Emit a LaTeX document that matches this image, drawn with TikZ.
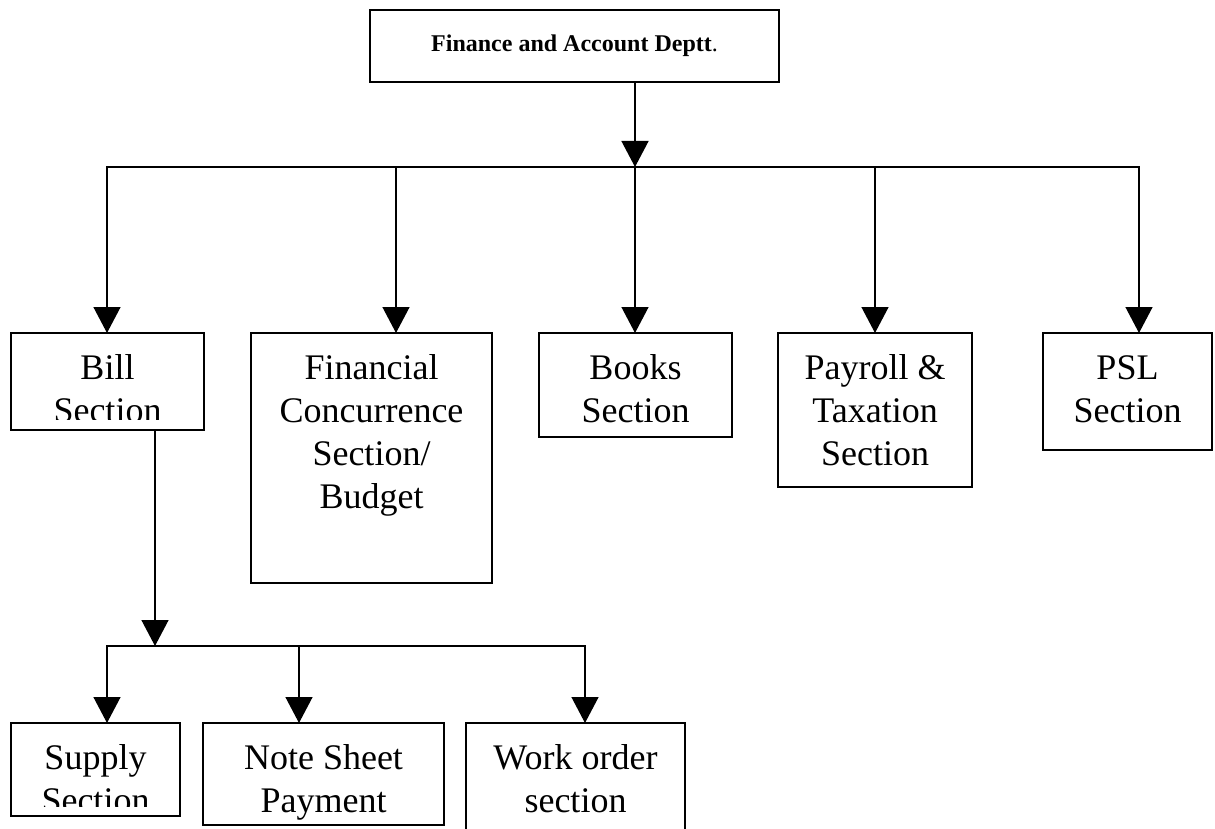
\documentclass[tikz,border=0pt]{standalone}
\usepackage{fontspec}
\setmainfont{Liberation Serif}
\usetikzlibrary{arrows.meta}
% stacked, centred lines whose baseline is that of the first line
\newcommand\boxlines[1]{\begin{tabular}[t]{@{}c@{}}#1\end{tabular}}
\begin{document}
\begin{tikzpicture}[x=1pt,y=-1pt,
  unit/.style={draw, line width=2.2pt, inner sep=0pt, outer sep=0pt, anchor=north west},
  caption/.style={anchor=base, inner sep=0pt, font=\fontsize{36}{43}\selectfont},
  link/.style={line width=1.4pt},
  arrowlink/.style={link, -{Triangle[length=26pt,width=27pt]}}]
\fill[white] (0,0) rectangle (1215,829);
\clip (0,0) rectangle (1215,829);

% department head
\node[unit, minimum width=409pt, minimum height=72pt] (top) at (370,10) {};
\node[anchor=base, inner sep=0pt, font=\fontsize{24}{28}\selectfont] (ttop) at (574.5,52)
  {\textbf{Finance and Account Deptt}.};

% sections
\node[unit, minimum width=193pt, minimum height=97pt]  (bill)  at (11,333) {};
\node[unit, minimum width=241pt, minimum height=250pt] (fin)   at (251,333) {};
\node[unit, minimum width=193pt, minimum height=104pt] (books) at (539,333) {};
\node[unit, minimum width=194pt, minimum height=154pt] (pay)   at (778,333) {};
\node[unit, minimum width=169pt, minimum height=117pt] (psl)   at (1043,333) {};

\begin{scope}
  \clip (11,333) rectangle (204,419);
  \node[caption] (tbill) at (107.5,379) {\boxlines{Bill\\Section}};
\end{scope}
\node[caption] (tfin)   at (371.5,379) {\boxlines{Financial\\Concurrence\\Section/\\Budget}};
\node[caption] (tbooks) at (635.5,379) {\boxlines{Books\\Section}};
\node[caption] (tpay)   at (875,379)   {\boxlines{Payroll \&\\Taxation\\Section}};
\node[caption] (tpsl)   at (1127.5,379) {\boxlines{PSL\\Section}};

% bill sub-sections
\node[unit, minimum width=169pt, minimum height=93pt]  (supply) at (11,723) {};
\node[unit, minimum width=241pt, minimum height=102pt] (note)   at (203,723) {};
\node[unit, minimum width=219pt, minimum height=130pt] (work)   at (466,723) {};

\begin{scope}
  \clip (11,723) rectangle (180,806);
  \node[caption] (tsupply) at (95.5,769) {\boxlines{Supply\\Section}};
\end{scope}
\node[caption] (tnote) at (323.5,769) {\boxlines{Note Sheet\\Payment}};
\node[caption] (twork) at (575.5,769) {\boxlines{Work order\\section}};

% first level connectors
\coordinate (c1) at (107,167);
\coordinate (c2) at (396,167);
\coordinate (c3) at (635,167);
\coordinate (c4) at (875,167);
\coordinate (c5) at (1139,167);
\draw[arrowlink] (top.south -| c3) -- (c3);
\draw[link, line cap=rect] (c1) -- (c5);
\foreach \c/\n in {c1/bill, c2/fin, c3/books, c4/pay, c5/psl}
  \draw[arrowlink] (\c) -- (\c |- \n.north);

% second level connectors
\coordinate (d0) at (155,646);
\coordinate (d1) at (107,646);
\coordinate (d2) at (299,646);
\coordinate (d3) at (585,646);
\draw[arrowlink] (bill.south -| d0) -- (d0);
\draw[link, line cap=rect] (d1) -- (d3);
\foreach \c/\n in {d1/supply, d2/note, d3/work}
  \draw[arrowlink] (\c) -- (\c |- \n.north);
\end{tikzpicture}
\end{document}
